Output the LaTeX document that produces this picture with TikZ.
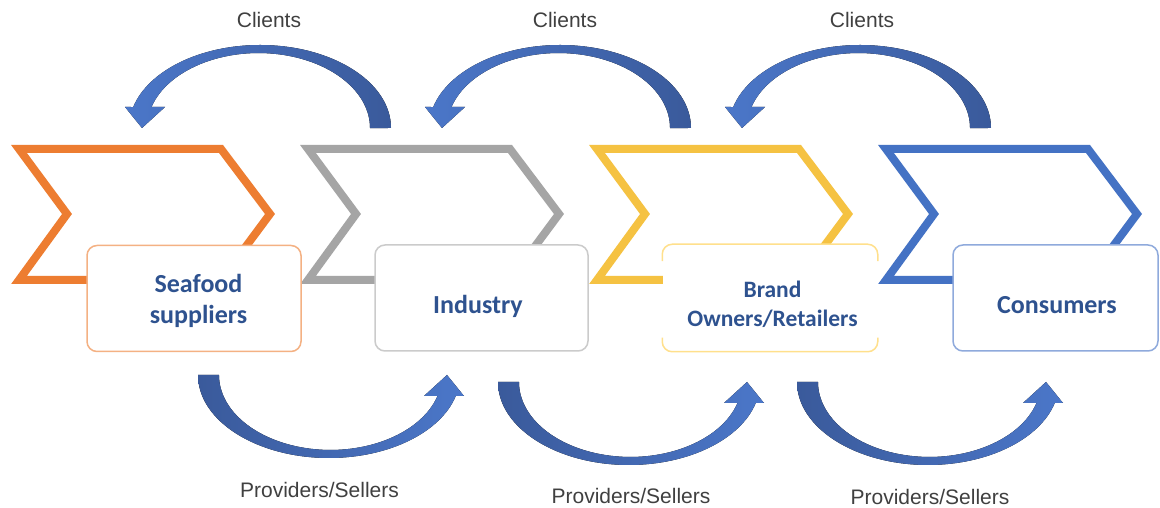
\documentclass[tikz,border=0pt]{standalone}
\usepackage{fontspec}
\setmainfont{Liberation Sans}
\newfontfamily\stagefont{Carlito}

\definecolor{chevorange}{HTML}{ED7D31}
\definecolor{chevgray}{HTML}{A5A5A5}
\definecolor{chevgold}{HTML}{F5C242}
\definecolor{chevblue}{HTML}{4472C4}
\definecolor{edgeorange}{HTML}{F4B183}
\definecolor{edgegray}{HTML}{CBCBCB}
\definecolor{edgegold}{HTML}{FFE08C}
\definecolor{edgeblue}{HTML}{8FAADC}
\definecolor{stagetextblue}{HTML}{2E528F}
\definecolor{flowgray}{HTML}{404040}
\definecolor{arrowdark}{HTML}{3A5A9B}
\definecolor{arrowlight}{HTML}{4B77C9}

\begin{document}
\begin{tikzpicture}[x=1pt,y=1pt,
  chev/.style={line width=8pt, line join=miter},
  stagebox/.style={draw, line width=1.5pt, fill=white, rounded corners=10pt,
    minimum height=106pt, minimum width=214pt, inner sep=0pt},
  stagetext/.style={font=\stagefont\bfseries\fontsize{26}{31}\selectfont,
    text=stagetextblue, align=center, inner sep=0pt},
  flowlabel/.style={font=\fontsize{21}{25}\selectfont, text=flowgray,
    inner sep=0pt, anchor=base}
]
\useasboundingbox (0,0) rectangle (1160,508);
\fill[white] (0,0) rectangle (1160,508);

% value-chain chevrons
\foreach \dx/\col in {0/chevorange, 289/chevgray, 578/chevgold, 867/chevblue}
  \draw[chev, draw=\col] (19+\dx,359) -- (221+\dx,359) -- (270+\dx,294)
    -- (221+\dx,228) -- (19+\dx,228) -- (67+\dx,294) -- cycle;

% stage boxes
\node[stagebox, draw=edgeorange] (sup) at (194,209.5) {};
\node[stagebox, draw=edgegray, minimum width=213pt] (ind) at (481.5,210) {};
\node[stagebox, draw=none] (bro) at (770,210) {};
\node[stagebox, draw=edgeblue, minimum width=205pt] (con) at (1055.5,210) {};

% the gold box is outlined in two parts, open at the sides
\draw[edgegold, line width=1.5pt, rounded corners=10pt]
  ([yshift=-17pt]bro.north west) -- (bro.north west) -- (bro.north east)
  -- ([yshift=-17pt]bro.north east);
\draw[edgegold, line width=1.5pt, rounded corners=10pt]
  ([yshift=14pt]bro.south west) -- (bro.south west) -- (bro.south east)
  -- ([yshift=14pt]bro.south east);

% stage names
\node[stagetext] (supname) at (198.5,207.2) {Seafood\\suppliers};
\node[stagetext, anchor=base] (indname) at (478,194) {Industry};
\node[stagetext, font=\stagefont\bfseries\fontsize{23.5}{29}\selectfont]
  (broname) at (772.5,203.7) {Brand\\Owners/Retailers};
\node[stagetext, anchor=base] (conname) at (1057,194) {Consumers};

% upper curved arrows (client direction), head on the left
\foreach \ox in {260,560,860}
  \fill[shift={(\ox,380)}, left color=arrowlight, right color=arrowdark]
    (131,0) arc[start angle=0, end angle=165.35, x radius=131, y radius=83]
    -- (-135,21) -- (-118,0) -- (-95,21) -- (-108.5,21)
    arc[start angle=163.7, end angle=0, x radius=111.5, y radius=75] -- cycle;

% lower curved arrows (provider direction), head on the right
\foreach \ox/\oy in {329/133, 629/126, 928/126}
  \fill[shift={(\ox,\oy)}, left color=arrowdark, right color=arrowlight]
    (-131,0) arc[start angle=180, end angle=345.35, x radius=131, y radius=83]
    -- (135,-21) -- (118,0) -- (95,-21) -- (108.5,-21)
    arc[start angle=343.7, end angle=180, x radius=111.5, y radius=75] -- cycle;

% flow labels
\node[flowlabel] (cl1) at (269,480) {Clients};
\node[flowlabel] (cl2) at (565,480) {Clients};
\node[flowlabel] (cl3) at (862,480) {Clients};
\node[flowlabel] (ps1) at (319.5,10) {Providers/Sellers};
\node[flowlabel] (ps2) at (631,4) {Providers/Sellers};
\node[flowlabel] (ps3) at (930,3) {Providers/Sellers};
\end{tikzpicture}
\end{document}
